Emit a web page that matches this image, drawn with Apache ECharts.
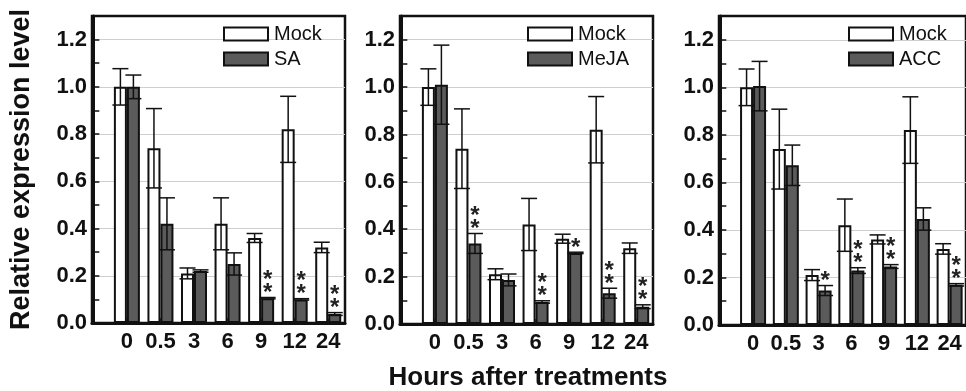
<!DOCTYPE html>
<html>
<head>
<meta charset="utf-8">
<script src="https://cdn.jsdelivr.net/npm/echarts@6/dist/echarts.min.js"></script>
<style>
html,body{margin:0;padding:0;background:#fff;}
#chart{width:966px;height:391px;}
</style>
</head>
<body>
<div id="chart"></div>
<script>
// ---------- data ----------
const hourLabels = ['0', '0.5', '3', '6', '9', '12', '24'];
const positions = [1, 2, 3, 4, 5, 6, 7];

const mockMean = [1.00, 0.74, 0.21, 0.42, 0.36, 0.82, 0.32];
const mockErr  = [0.077, 0.168, 0.023, 0.11, 0.019, 0.14, 0.022];

const treatNames = ['SA', 'MeJA', 'ACC'];

const saMean = [1.00, 0.42, 0.22, 0.25, 0.105, 0.10, 0.038];
const saErr  = [0.05, 0.11, 0.005, 0.047, 0.003, 0.003, 0.006];
const saSig  = [0, 0, 0, 0, 2, 2, 2];

const mejaMean = [1.01, 0.34, 0.186, 0.093, 0.30, 0.13, 0.073];
const mejaErr  = [0.167, 0.042, 0.025, 0.005, 0.003, 0.021, 0.008];
const mejaSig  = [0, 2, 0, 2, 1, 2, 2];

const accMean = [1.005, 0.672, 0.145, 0.229, 0.246, 0.446, 0.169];
const accErr  = [0.104, 0.085, 0.021, 0.012, 0.008, 0.047, 0.005];
const accSig  = [0, 0, 1, 2, 2, 0, 2];

const yTicks = [0, 0.2, 0.4, 0.6, 0.8, 1.0, 1.2];

const yTitle = 'Relative expression level';
const xTitle = 'Hours after treatments';

// ---------- style ----------
const FONT = '"Liberation Sans", Arial, Helvetica, sans-serif';
const gridBoxes = [
  {left: 92, top: 16, width: 253, height: 307},
  {left: 400, top: 16, width: 253, height: 308},
  {left: 719, top: 16, width: 253, height: 309}
];
const legendLefts = [223, 527, 848];
const HALF = 6.5;

const panels = [
  {name: treatNames[0], mean: saMean, err: saErr, sig: saSig},
  {name: treatNames[1], mean: mejaMean, err: mejaErr, sig: mejaSig},
  {name: treatNames[2], mean: accMean, err: accErr, sig: accSig}
];

function pts(means) { return positions.map((x, i) => [x, means[i]]); }

function errSeries(gi, means, errs, side) {
  return {
    type: 'custom', xAxisIndex: gi, yAxisIndex: gi, z: 5, silent: true,
    data: positions.map((x, i) => [x, means[i] - errs[i], means[i] + errs[i]]),
    renderItem: function (params, api) {
      const lo = api.coord([api.value(0), api.value(1)]);
      const hi = api.coord([api.value(0), api.value(2)]);
      const cx = lo[0] + side * HALF;
      const hw = 8;
      const st = {stroke: '#111', lineWidth: 1.5};
      return {type: 'group', children: [
        {type: 'line', shape: {x1: cx, y1: hi[1], x2: cx, y2: lo[1]}, style: st},
        {type: 'line', shape: {x1: cx - hw, y1: hi[1], x2: cx + hw, y2: hi[1]}, style: st},
        {type: 'line', shape: {x1: cx - hw, y1: lo[1], x2: cx + hw, y2: lo[1]}, style: st}
      ]};
    }
  };
}

function sigSeries(gi, means, errs, sig) {
  return {
    type: 'custom', xAxisIndex: gi, yAxisIndex: gi, z: 6, silent: true,
    data: positions.map((x, i) => [x, means[i] + errs[i], sig[i]]),
    renderItem: function (params, api) {
      const n = api.value(2);
      const p = api.coord([api.value(0), api.value(1)]);
      const cx = p[0] + HALF;
      const kids = [];
      for (let k = 0; k < n; k++) {
        kids.push({type: 'text', x: cx, y: p[1] - 4 - 13 * k,
          style: {text: '*', font: 'bold 24px ' + FONT, fill: '#222',
                  align: 'center', verticalAlign: 'middle'}});
      }
      return {type: 'group', children: kids};
    }
  };
}

const grids = [], xAxes = [], yAxes = [], series = [], legends = [];

panels.forEach((p, gi) => {
  grids.push(Object.assign({show: true, borderColor: '#111', borderWidth: 2.5, backgroundColor: 'transparent'}, gridBoxes[gi]));
  xAxes.push({
    type: 'value', gridIndex: gi, min: -0.04, max: 7.5,
    axisLine: {show: true, lineStyle: {color: '#111', width: 3}},
    axisTick: {show: true, inside: true, length: 5, customValues: positions, lineStyle: {color: '#111', width: 1.5}},
    splitLine: {show: false},
    axisLabel: {
      customValues: positions, margin: 8,
      formatter: v => hourLabels[Math.round(v) - 1] || '',
      color: '#111', fontWeight: 'bold', fontSize: 22, fontFamily: FONT
    }
  });
  yAxes.push({
    type: 'value', gridIndex: gi, min: 0, max: 1.3, interval: 0.2,
    name: gi === 0 ? yTitle : '',
    nameLocation: 'middle', nameGap: 57,
    nameTextStyle: {fontSize: 27, fontWeight: 'bold', color: '#111', fontFamily: FONT},
    axisLine: {show: true, lineStyle: {color: '#111', width: 3}},
    axisTick: {show: true, inside: true, length: 6, customValues: yTicks, lineStyle: {color: '#111', width: 1.5}},
    minorTick: {show: true, splitNumber: 2, length: 6, lineStyle: {color: '#111', width: 1.5}},
    splitLine: {show: true, lineStyle: {color: '#cfcfcf', width: 1}},
    axisLabel: {
      margin: 5,
      customValues: yTicks,
      formatter: v => v.toFixed(1),
      color: '#111', fontWeight: 'bold', fontSize: 22, fontFamily: FONT
    }
  });
  series.push({
    name: 'Mock', type: 'bar', xAxisIndex: gi, yAxisIndex: gi,
    data: pts(mockMean), barWidth: 13, barGap: '0%',
    itemStyle: {color: '#ffffff', borderColor: '#111', borderWidth: 2}
  });
  series.push({
    name: p.name, type: 'bar', xAxisIndex: gi, yAxisIndex: gi,
    data: pts(p.mean), barWidth: 13, barGap: '0%',
    itemStyle: {color: '#5b5b5b', borderColor: '#111', borderWidth: 2}
  });
  series.push(errSeries(gi, mockMean, mockErr, -1));
  series.push(errSeries(gi, p.mean, p.err, 1));
  series.push(sigSeries(gi, p.mean, p.err, p.sig));
  legends.push({
    data: ['Mock', p.name], orient: 'vertical', left: legendLefts[gi], top: 24,
    icon: 'rect',
    itemWidth: 44, itemHeight: 13, itemGap: 5, padding: 0, selectedMode: false,
    itemStyle: {borderColor: '#111', borderWidth: 2},
    textStyle: {fontSize: 20, color: '#111', fontFamily: FONT, padding: [0, 0, 0, 1]}
  });
});

const chart = echarts.init(document.getElementById('chart'), null, {renderer: 'canvas'});
chart.setOption({
  animation: false,
  backgroundColor: '#fff',
  grid: grids, xAxis: xAxes, yAxis: yAxes, series: series, legend: legends,
  graphic: [{
    type: 'text', x: 528, y: 378,
    style: {text: xTitle, font: 'bold 26px ' + FONT, fill: '#111', align: 'center', verticalAlign: 'middle'}
  }]
});
</script>
</body>
</html>
